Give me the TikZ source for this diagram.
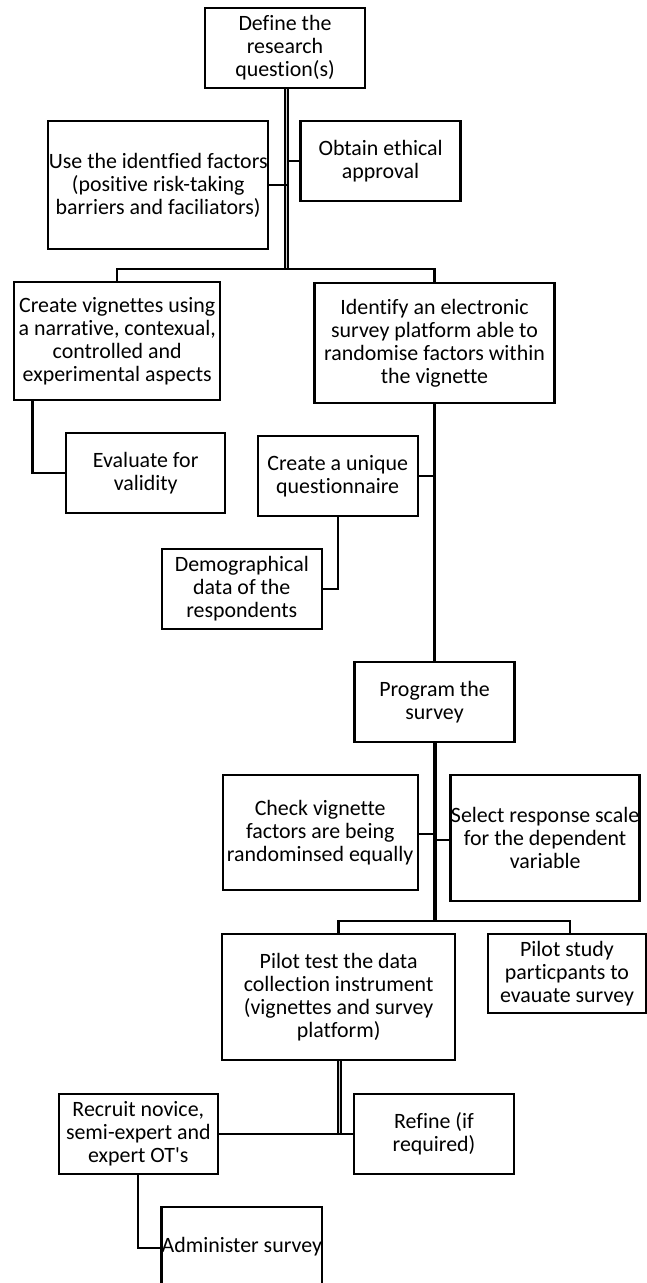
\documentclass[tikz,border=0pt]{standalone}
\usepackage{fontspec}
\setmainfont{Carlito}[Ligatures={TeXOff,NoCommon}]
\begin{document}
\begin{tikzpicture}[x=1pt,y=-1pt,
  box/.style={draw=black,line width=2.4pt,fill=white,inner sep=0pt,align=center,
    font=\fontsize{21.9}{23}\selectfont,minimum width=160pt,minimum height=80pt},
  conn/.style={draw=black,line width=2.3pt},
  dbl/.style={draw=black,line width=2.4pt,double=gray!35,double distance=0.9pt},
  thick trunk/.style={draw=black,line width=4.5pt}]
\clip (0,0) rectangle (647,1283);
\fill[white] (0,0) rectangle (647,1283);

\node[box] (def) at (285,48) {Define the\\research\\question(s)};
\node[box,minimum width=220pt,minimum height=128pt] (use) at (158.2,185) {Use the identfied factors\\(positive risk-taking\\barriers and faciliators)};
\node[box] (obt) at (380.6,161) {Obtain ethical\\approval};
\node[box,minimum width=206pt,minimum height=118pt] (cv) at (117.2,341) {Create vignettes using\\a narrative, contexual,\\controlled and\\experimental aspects};
\node[box,minimum width=240pt,minimum height=120pt] (idf) at (434.5,343) {Identify an electronic\\survey platform able to\\randomise factors within\\the vignette};
\node[box,minimum width=159pt] (ev) at (145.7,473) {Evaluate for\\validity};
\node[box] (cu) at (337.7,476) {Create a unique\\questionnaire};
\node[box] (dem) at (241.8,589) {Demographical\\data of the\\respondents};
\node[box] (prog) at (434.5,702) {Program the\\survey};
\node[box,minimum width=195pt,minimum height=115pt] (chk) at (320.2,832.5) {Check vignette\\factors are being\\randominsed equally};
\node[box,minimum width=189pt,minimum height=126pt] (sel) at (545.1,838) {Select response scale\\for the dependent\\variable};
\node[box,minimum width=233pt,minimum height=126pt] (pt) at (338.6,997) {Pilot test the data\\collection instrument\\(vignettes and survey\\platform)};
\node[box,minimum width=158.5pt,minimum height=79pt] (ps) at (567,973.5) {Pilot study\\particpants to\\evauate survey};
\node[box,minimum width=159pt] (rec) at (138.3,1134) {Recruit novice,\\semi-expert and\\expert OT's};
\node[box] (ref) at (434,1134) {Refine (if\\required)};
\node[box] (adm) at (241.8,1247) {Administer survey};

\coordinate (j1) at (286.6,269);
\coordinate (j2) at (435.2,921);

% top trunk
\draw[dbl] (def.south -| j1) -- (j1);
\draw[conn] (use.east) -- (use.east -| j1);
\draw[conn] (obt.west) -- (obt.west -| j1);
\draw[conn] (cv.north) |- (j1) -| (idf.north);
% left branch
\draw[conn] ([xshift=19.6pt]cv.south west) |- (ev.west);
% right branch
\draw[conn] (idf.south) -- (idf.south |- prog.north);
\draw[conn] (cu.east) -- (cu.east -| idf.south);
\draw[conn] (cu.south) |- (dem.east);
% program trunk
\draw[thick trunk] (prog.south -| j2) -- (j2);
\draw[conn] ([yshift=-1.5pt]chk.east) -- ([yshift=-1.5pt]chk.east -| j2);
\draw[conn] ([yshift=-2pt]sel.west) -- ([yshift=-2pt]sel.west -| j2);
\draw[conn] (pt.north) |- (j2) -| ([xshift=3pt]ps.north);
% pilot trunk
\draw[dbl] ([xshift=1pt]pt.south) -- ([xshift=1pt]pt.south |- rec.east);
\draw[conn] (rec.east) -- (ref.west);
\draw[conn] (rec.south) |- ([yshift=-1pt]adm.west);
\end{tikzpicture}
\end{document}
